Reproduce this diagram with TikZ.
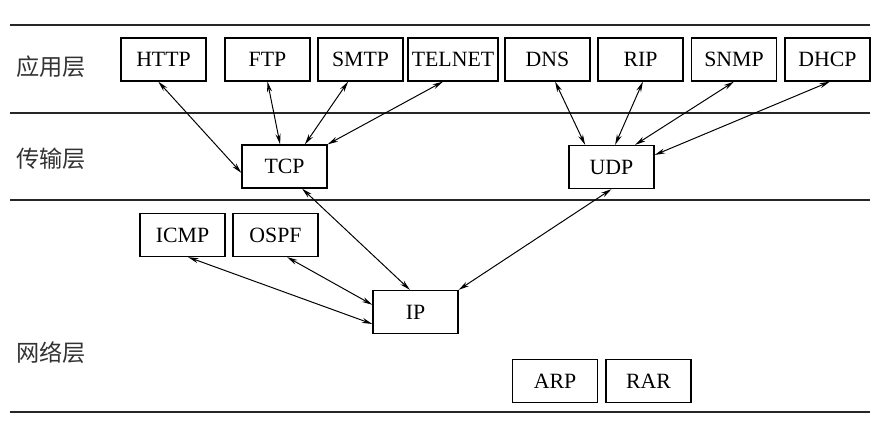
\documentclass[tikz,border=0pt]{standalone}
\usepackage{fontspec}
\setmainfont{Liberation Serif}
\newfontfamily\cjk{Noto Sans CJK SC}
\usetikzlibrary{arrows.meta}

\begin{document}
\begin{tikzpicture}[x=0.025cm,y=-0.025cm,>={Stealth[length=7.5pt,width=3.6pt]},font=\fontsize{15.5}{18}\selectfont,
  proto/.style={draw,line width=0.9pt,minimum width=2.125cm,minimum height=1.075cm,inner sep=0pt},
  link/.style={<->,line width=0.7pt},
  layer/.style={font=\cjk\fontsize{16.5}{18}\selectfont,black!80}]
 \useasboundingbox (0,0) rectangle (881,432);
 % layer boundaries
 \foreach \y in {25,113,200,412}{\draw[line width=1.3pt,black!85] (10,\y) -- (870,\y);}
 \node[layer] (app) at (51,67) {应用层};
 \node[layer] (trans) at (51,159) {传输层};
 \node[layer] (net) at (51,353) {网络层};
 % application layer
 \foreach \x/\n in {163.5/HTTP,267.5/FTP,360.5/SMTP,547.5/DNS,640.5/RIP,734/SNMP,827.5/DHCP}{\node[proto] (\n) at (\x,59.5) {\n};}
 \node[proto,minimum width=2.25cm] (TELNET) at (453,59.5) {TELNET};
 % transport layer
 \node[proto] (TCP) at (284.5,166.5) {TCP};
 \node[proto] (UDP) at (611.5,167) {UDP};
 % network layer
 \node[proto] (ICMP) at (182.5,235) {ICMP};
 \node[proto] (OSPF) at (275.5,235) {OSPF};
 \node[proto] (IP) at (415.5,312) {IP};
 \node[proto] (ARP) at (555,381) {ARP};
 \node[proto] (RAR) at (648.5,381) {RAR};
 % links
 \draw[link] ([xshift=-0.13cm]HTTP.south) -- ([yshift=-0.16cm]TCP.west);
 \draw[link] (FTP.south) -- ([xshift=-0.11cm]TCP.north);
 \draw[link] ([xshift=-0.31cm]SMTP.south) -- ([xshift=0.51cm]TCP.north);
 \draw[link] ([xshift=-0.25cm]TELNET.south) -- (TCP.north east);
 \draw[link] ([xshift=0.19cm]DNS.south) -- ([xshift=-0.66cm]UDP.north);
 \draw[link] ([xshift=0.06cm]RIP.south) -- ([xshift=0.09cm]UDP.north);
 \draw[link] (SNMP.south) -- ([xshift=0.59cm]UDP.north);
 \draw[link] ([xshift=0.06cm]DHCP.south) -- ([yshift=0.3cm]UDP.east);
 \draw[link] ([xshift=0.44cm]TCP.south) -- ([xshift=-0.14cm]IP.north);
 \draw[link] (UDP.south) -- (IP.north east);
 \draw[link] ([xshift=0.14cm]ICMP.south) -- ([yshift=-0.3cm]IP.west);
 \draw[link] ([xshift=0.29cm]OSPF.south) -- ([yshift=0.18cm]IP.west);
\end{tikzpicture}
\end{document}
